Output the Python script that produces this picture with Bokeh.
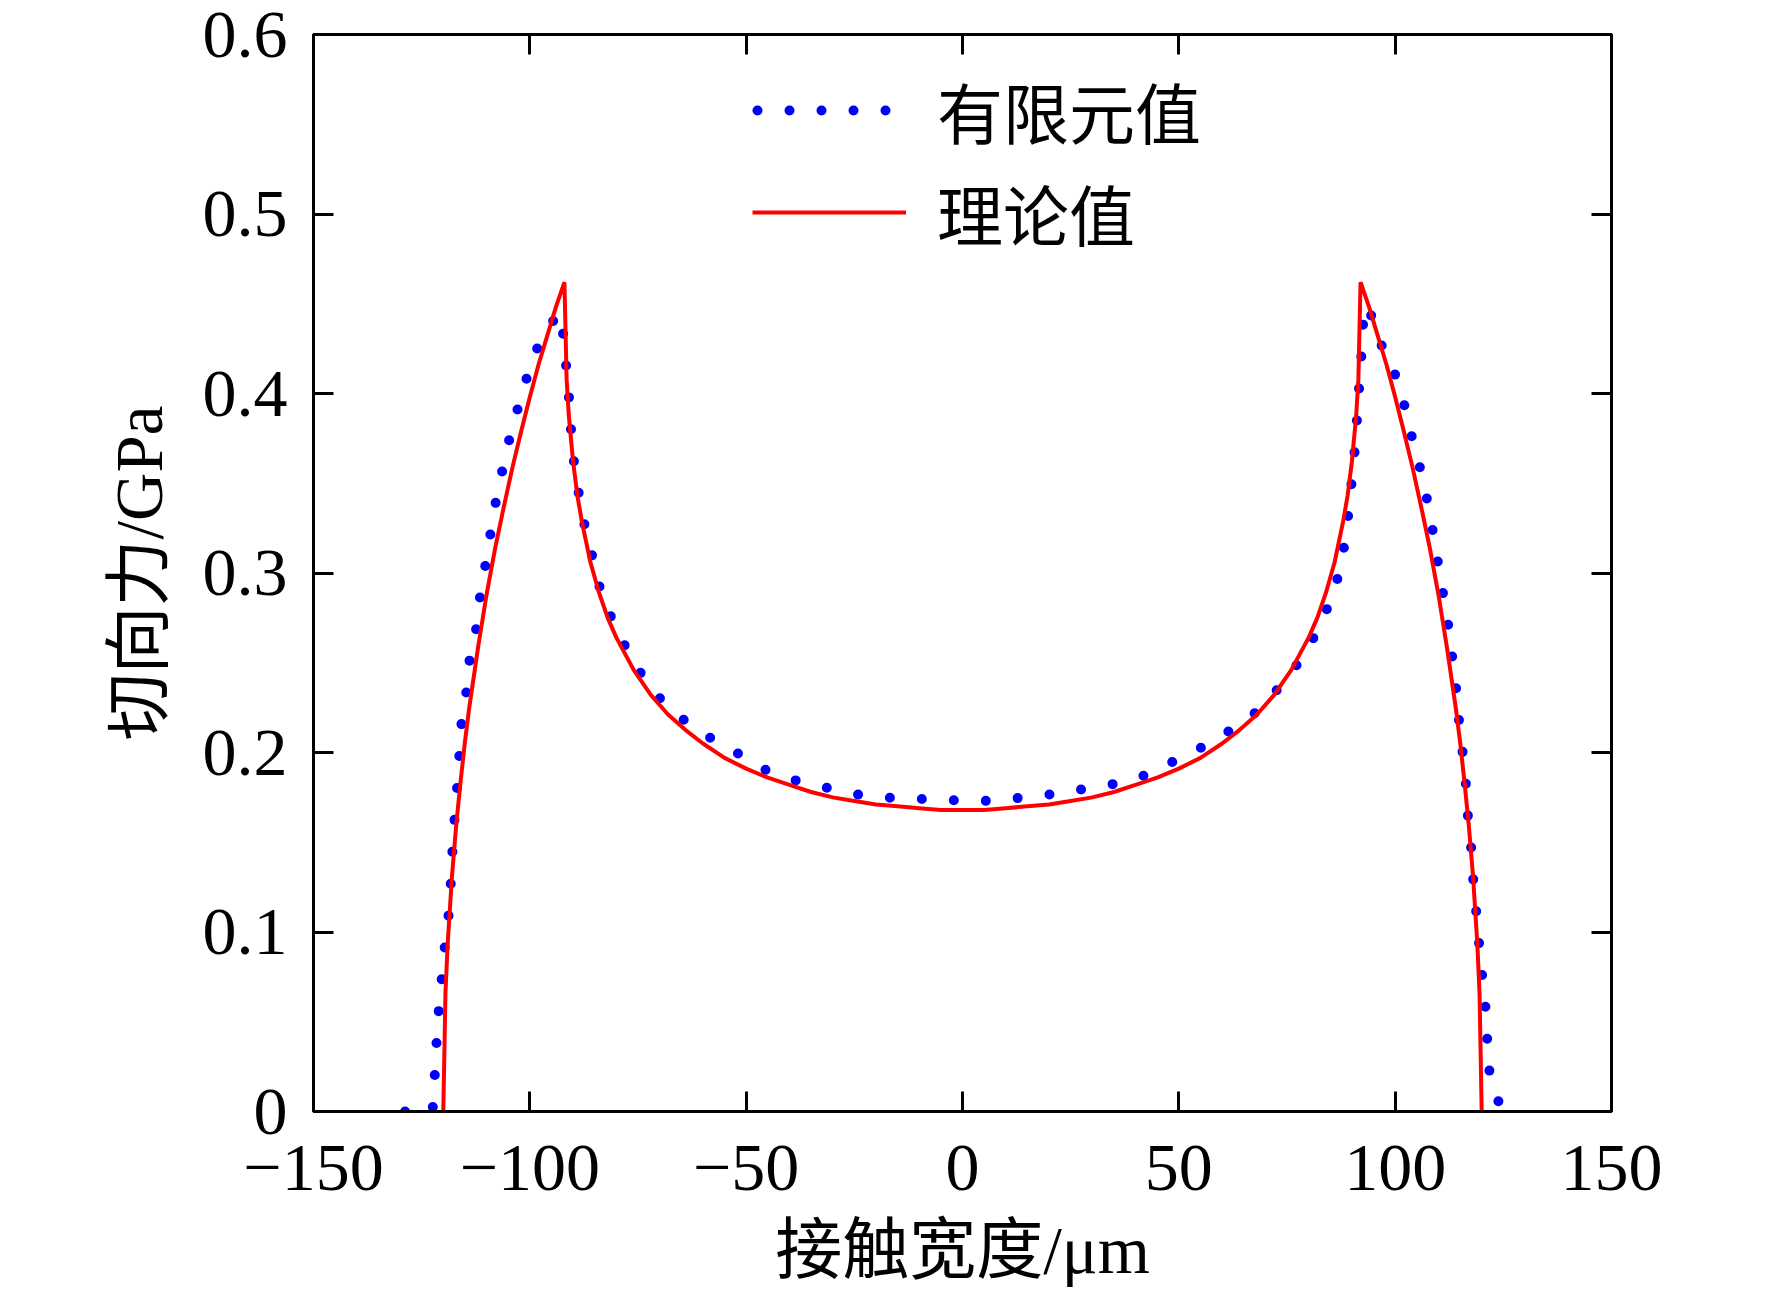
from bokeh.plotting import figure
from bokeh.models import Range1d, LinearAxis, FixedTicker, Legend, LegendItem
from bokeh.embed import file_html
from bokeh.resources import INLINE

# ---- data ----
theory_x = [-120, -119.5, -119, -118, -117, -116, -115, -114, -112, -110, -108, -106,
            -104, -102, -100, -98, -96, -94, -92, -91.5, -91, -90, -89, -88, -86, -84,
            -82, -80, -76, -72, -68, -64, -60, -55, -50, -45, -40, -35, -30, -25, -20,
            -15, -10, -5, 0, 5, 10, 15, 20, 25, 30, 35, 40, 45, 50, 55, 60, 64, 68, 72,
            76, 80, 82, 84, 86, 88, 89, 90, 91, 91.5, 92, 94, 96, 98, 100, 102, 104,
            106, 108, 110, 112, 114, 115, 116, 117, 118, 119, 119.5, 120]
theory_y = [0.0, 0.066, 0.093, 0.131, 0.160, 0.184, 0.206, 0.225, 0.258, 0.288, 0.314, 0.337,
            0.359, 0.379, 0.398, 0.416, 0.432, 0.448, 0.462, 0.408, 0.388, 0.362, 0.343, 0.329,
            0.306, 0.289, 0.275, 0.264, 0.246, 0.232, 0.221, 0.2125, 0.205, 0.197, 0.191, 0.186,
            0.182, 0.178, 0.175, 0.173, 0.171, 0.170, 0.169, 0.168, 0.168, 0.168, 0.169, 0.170,
            0.171, 0.173, 0.175, 0.178, 0.182, 0.186, 0.191, 0.197, 0.205, 0.2125, 0.221, 0.232,
            0.246, 0.264, 0.275, 0.289, 0.306, 0.329, 0.343, 0.362, 0.388, 0.408, 0.462, 0.448,
            0.432, 0.416, 0.398, 0.379, 0.359, 0.337, 0.314, 0.288, 0.258, 0.225, 0.206, 0.184,
            0.160, 0.131, 0.093, 0.066, 0.0]

fe_x = [-130, -122.5, -122.0, -121.6, -121.1, -120.4, -119.7, -118.8, -118.3, -117.9,
        -117.4, -116.8, -116.3, -115.8, -114.6, -113.9, -112.3, -111.4, -110.0, -108.9,
        -107.7, -106.1, -104.5, -102.4, -100.3, -98.0, -96.0, -94.1, -93.0, -92.5,
        -91.8, -91.1, -90.6, -90.1, -89.0, -87.8, -86.0, -84.4, -82.1, -78.6,
        -74.9, -70.3, -64.9, -58.9, -52.3, -45.3, -38.0, -30.7, -23.1, -15.5,
        -8.2, -0.7, 6.9, 14.2, 21.5, 28.9, 36.2, 43.2, 50.3, 57.1,
        63.6, 69.3, 74.8, 79.5, 83.2, 86.1, 87.9, 89.0, 89.7, 90.5,
        91.0, 91.5, 92.1, 92.8, 94.0, 96.2, 99.3, 101.4, 103.5, 105.6,
        107.2, 108.5, 109.8, 111.1, 112.2, 113.2, 114.0, 114.7, 115.5, 116.3,
        116.8, 117.6, 118.1, 118.7, 119.2, 119.8, 120.4, 120.9, 121.3, 121.8,
        123.6, 124.5]
fe_y = [0.0, 0.0, 0.019, 0.037, 0.055, 0.073, 0.091, 0.109, 0.126, 0.145,
        0.163, 0.181, 0.198, 0.216, 0.235, 0.252, 0.270, 0.289, 0.308, 0.325,
        0.342, 0.360, 0.377, 0.395, 0.412, 0.427, 0.436, 0.442, 0.445, 0.438,
        0.420, 0.403, 0.384, 0.367, 0.349, 0.331, 0.314, 0.296, 0.280, 0.262,
        0.246, 0.231, 0.219, 0.209, 0.200, 0.190, 0.184, 0.180, 0.176, 0.1745,
        0.174, 0.1733, 0.173, 0.175, 0.177, 0.180, 0.183, 0.188, 0.197, 0.205,
        0.215, 0.225, 0.241, 0.256, 0.274, 0.291, 0.310, 0.329, 0.345, 0.364,
        0.379, 0.398, 0.417, 0.449, 0.447, 0.430, 0.415, 0.401, 0.379, 0.360,
        0.343, 0.326, 0.307, 0.288, 0.272, 0.253, 0.238, 0.219, 0.202, 0.184,
        0.165, 0.146, 0.127, 0.112, 0.100, 0.080, 0.072, 0.057, 0.039, 0.022,
        0.008, 0.0]

x_ticks = [-150, -100, -50, 0, 50, 100, 150]
x_tick_labels = ["\u2212150", "\u2212100", "\u221250", "0", "50", "100", "150"]
y_ticks = [0, 0.1, 0.2, 0.3, 0.4, 0.5, 0.6]
y_tick_labels = ["0", "0.1", "0.2", "0.3", "0.4", "0.5", "0.6"]

x_title = "接触宽度/μm"
y_title = "切向力/GPa"
fe_label = "有限元值"
theory_label = "理论值"

LATIN = "'Liberation Serif'"
MIXED = "'Liberation Serif', 'Noto Sans CJK SC'"
CJK = "'Noto Sans CJK SC'"

p = figure(frame_width=1298, frame_height=1077,
           x_range=Range1d(-150, 150), y_range=Range1d(0, 0.6),
           output_backend="svg", toolbar_location=None,
           min_border_left=313, min_border_top=34, min_border_right=120,
           min_border_bottom=160, background_fill_color="white",
           border_fill_color="white")
p.xgrid.visible = False
p.ygrid.visible = False
p.outline_line_color = "black"
p.outline_line_width = 3


def style(ax, ticks, labels, show):
    ax.ticker = FixedTicker(ticks=ticks)
    ax.axis_line_width = 3
    ax.axis_line_color = "black"
    ax.major_tick_line_width = 3
    ax.major_tick_line_color = "black"
    ax.major_tick_in = 20
    ax.major_tick_out = 0
    ax.minor_tick_line_color = None
    ax.major_label_text_font = LATIN
    ax.major_label_text_color = "black"
    ax.major_label_text_font_size = "68px"
    if show:
        ax.major_label_overrides = {t: l for t, l in zip(ticks, labels)}
    else:
        ax.major_label_overrides = {t: "" for t in ticks}
        ax.major_label_standoff = 0


xa = p.xaxis[0]
ya = p.yaxis[0]
style(xa, x_ticks, x_tick_labels, True)
style(ya, y_ticks, y_tick_labels, True)
xa.major_label_standoff = 34
ya.major_label_standoff = 26
xa.axis_label = x_title
ya.axis_label = y_title
for ax in (xa, ya):
    ax.axis_label_text_font = MIXED
    ax.axis_label_text_font_size = "67px"
    ax.axis_label_text_font_style = "normal"
    ax.axis_label_text_color = "black"
xa.axis_label_standoff = 20
ya.axis_label_standoff = 24

top = LinearAxis()
style(top, x_ticks, x_tick_labels, False)
p.add_layout(top, "above")
right = LinearAxis()
style(right, y_ticks, y_tick_labels, False)
p.add_layout(right, "right")

r_fe = p.line(fe_x, fe_y, line_color="#0000ff", line_width=10,
              line_dash="0 32", line_dash_offset=27, line_cap="round")
r_th = p.line(theory_x, theory_y, line_color="#ff0000", line_width=4)

legend = Legend(items=[LegendItem(label=fe_label, renderers=[r_fe]),
                       LegendItem(label=theory_label, renderers=[r_th])],
                location=(439, 851), orientation="vertical")
legend.label_text_font = CJK
legend.label_text_font_size = "66px"
legend.label_text_color = "black"
legend.glyph_width = 154
legend.glyph_height = 90
legend.label_height = 90
legend.label_standoff = 31
legend.spacing = 6
legend.padding = 0
legend.margin = 0
legend.border_line_color = None
legend.background_fill_alpha = 0
p.add_layout(legend, "center")

open("out.html", "w").write(file_html(p, INLINE))
